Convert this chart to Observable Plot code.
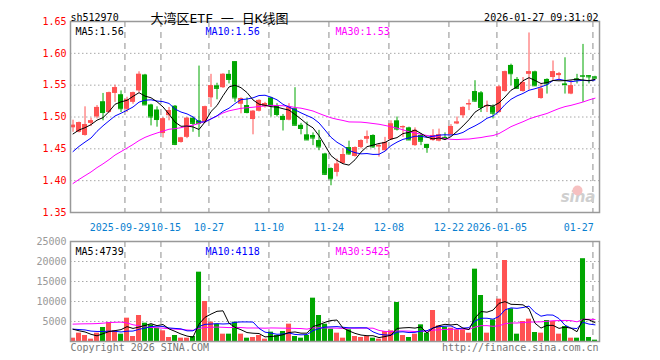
<!DOCTYPE html>
<html><head><meta charset="utf-8">
<script src="https://cdn.jsdelivr.net/npm/d3@7"></script>
<script src="https://cdn.jsdelivr.net/npm/@observablehq/plot@0.6"></script>
<style>
html,body{margin:0;padding:0;background:#fff;}
#wrap{position:relative;width:660px;height:360px;overflow:hidden;background:#fff;}
#wrap svg{position:absolute;left:0;}
</style></head><body><div id="wrap"></div>
<script>
// ---- data ----
const dates = ["2025-09-16","2025-09-17","2025-09-18","2025-09-19","2025-09-22","2025-09-23","2025-09-24","2025-09-25","2025-09-26","2025-09-29","2025-09-30",
"2025-10-09","2025-10-10","2025-10-13","2025-10-14","2025-10-15","2025-10-16","2025-10-17","2025-10-20","2025-10-21","2025-10-22","2025-10-23","2025-10-24","2025-10-27","2025-10-28","2025-10-29","2025-10-30","2025-10-31",
"2025-11-03","2025-11-04","2025-11-05","2025-11-06","2025-11-07","2025-11-10","2025-11-11","2025-11-12","2025-11-13","2025-11-14","2025-11-17","2025-11-18","2025-11-19","2025-11-20","2025-11-21","2025-11-24","2025-11-25","2025-11-26","2025-11-27","2025-11-28",
"2025-12-01","2025-12-02","2025-12-03","2025-12-04","2025-12-05","2025-12-08","2025-12-09","2025-12-10","2025-12-11","2025-12-12","2025-12-15","2025-12-16","2025-12-17","2025-12-18","2025-12-19","2025-12-22","2025-12-23","2025-12-24","2025-12-25","2025-12-26","2025-12-29","2025-12-30","2025-12-31",
"2026-01-05","2026-01-06","2026-01-07","2026-01-08","2026-01-09","2026-01-12","2026-01-13","2026-01-14","2026-01-15","2026-01-16","2026-01-19","2026-01-20","2026-01-21","2026-01-22","2026-01-23","2026-01-26","2026-01-27"];

const open = [1.483,1.476,1.471,1.490,1.500,1.524,1.507,1.537,1.535,1.512,
1.523,1.541,1.566,1.519,1.511,1.474,1.502,1.517,1.460,1.468,
1.498,1.494,1.492,1.530,1.549,1.546,1.567,1.587,1.520,1.518,
1.496,1.509,1.516,1.530,1.518,1.501,1.495,1.513,1.487,1.472,
1.471,1.463,1.442,1.419,1.413,1.427,1.452,1.438,1.452,1.465,
1.471,1.453,1.447,1.464,1.494,1.483,1.483,1.455,1.471,1.457,
1.463,1.462,1.468,1.472,1.489,1.502,1.519,1.540,1.538,1.516,
1.516,1.507,1.540,1.581,1.559,1.540,1.567,1.571,1.529,1.559,
1.562,1.565,1.552,1.536,1.560,1.565,1.565,1.563];

const close = [1.487,1.491,1.488,1.494,1.515,1.507,1.538,1.546,1.513,1.527,
1.538,1.567,1.519,1.500,1.496,1.497,1.510,1.457,1.467,1.498,
1.490,1.490,1.516,1.549,1.545,1.567,1.559,1.530,1.529,1.507,
1.509,1.526,1.521,1.518,1.504,1.496,1.515,1.487,1.482,1.464,
1.467,1.453,1.410,1.403,1.426,1.441,1.442,1.452,1.463,1.469,
1.453,1.455,1.460,1.489,1.481,1.485,1.464,1.479,1.462,1.452,
1.471,1.472,1.466,1.485,1.492,1.515,1.521,1.525,1.515,1.518,
1.506,1.547,1.571,1.568,1.545,1.554,1.571,1.549,1.544,1.552,
1.571,1.568,1.551,1.549,1.558,1.564,1.563,1.561];

const high = [1.495,1.492,1.516,1.498,1.518,1.537,1.539,1.550,1.541,1.531,
1.539,1.571,1.567,1.520,1.516,1.499,1.515,1.518,1.468,1.499,
1.500,1.580,1.517,1.567,1.553,1.568,1.573,1.587,1.530,1.530,
1.510,1.527,1.523,1.531,1.521,1.504,1.521,1.546,1.490,1.492,
1.475,1.479,1.443,1.420,1.434,1.450,1.462,1.453,1.464,1.478,
1.472,1.458,1.468,1.494,1.500,1.486,1.484,1.483,1.474,1.457,
1.480,1.481,1.475,1.488,1.500,1.516,1.527,1.557,1.540,1.525,
1.519,1.549,1.572,1.583,1.562,1.562,1.632,1.572,1.552,1.560,
1.588,1.570,1.593,1.557,1.567,1.614,1.565,1.564];

const low = [1.476,1.475,1.470,1.485,1.497,1.494,1.506,1.523,1.507,1.507,
1.520,1.538,1.518,1.486,1.484,1.467,1.494,1.455,1.459,1.466,
1.476,1.468,1.490,1.515,1.527,1.545,1.552,1.523,1.505,1.505,
1.472,1.508,1.514,1.500,1.500,1.478,1.494,1.486,1.472,1.463,
1.455,1.447,1.408,1.392,1.406,1.426,1.440,1.437,1.450,1.458,
1.451,1.437,1.447,1.463,1.478,1.468,1.463,1.454,1.455,1.443,
1.462,1.461,1.463,1.471,1.488,1.498,1.510,1.523,1.507,1.507,
1.497,1.506,1.539,1.549,1.544,1.539,1.542,1.548,1.528,1.536,
1.557,1.557,1.536,1.535,1.552,1.523,1.552,1.560];

const volume = [833,2083,1500,583,2083,3500,4750,2667,1833,5833,
1250,6500,4583,4167,3333,2667,1000,1500,833,833,
1250,17333,10000,4833,4333,1833,1833,4833,1833,833,
1000,1500,583,2333,1500,2500,4333,1250,833,1500,
10833,6500,4333,3083,2083,833,2917,1250,1000,1250,
833,583,2500,2667,9750,1500,1000,1833,4167,2083,
7750,3917,3583,3333,2917,2917,2083,18083,11500,2083,
5417,10583,20250,8167,1833,5000,5583,2250,2083,5250,
5000,1833,3750,833,833,20700,1000,333];

// 29 sessions before the window (not drawn), estimated from where the MA lines start
const warmCloses = [1.30,1.31,1.32,1.31,1.33,1.34,1.33,1.35,1.36,1.37,1.38,1.37,1.39,1.40,
1.41,1.42,1.43,1.42,1.43,1.44,1.41,1.42,1.43,1.41,1.42,1.46,1.47,1.47,1.48];
const warmVolumes = [600,500,400,500,600,400,500,500,12000,15000,14000,14000,7000,6000,5500,5000,
4500,4000,4200,4200,3000,2500,3500,3000,3500,4000,3000,3500,4000];

const priceTicks = [1.35,1.40,1.45,1.50,1.55,1.60,1.65];
const volTicks = [5000,10000,15000,20000,25000];
const tickDates = ["2025-09-29","2025-10-15","2025-10-27","2025-11-10","2025-11-24","2025-12-08","2025-12-22","2026-01-05","2026-01-27"];
const tickLabels = ["2025-09-29","10-15","10-27","11-10","11-24","12-08","12-22","2026-01-05","01-27"];
const priceMALabels = ["MA5:1.56","MA10:1.56","MA30:1.53"];
const volMALabels = ["MA5:4739","MA10:4118","MA30:5425"];
const titleText = "大湾区ETF 一 日K线图";
const codeText = "sh512970";
const timeText = "2026-01-27 09:31:02";

// ---- build ----
const W = warmCloses.length;
const allC = warmCloses.concat(close), allV = warmVolumes.concat(volume);
const ma = (arr, n, i) => d3.mean(arr.slice(i + W - n + 1, i + W + 1));
const rows = dates.map((d, i) => ({
  i, date: d, open: open[i], close: close[i], high: high[i], low: low[i], vol: volume[i],
  up: close[i] >= open[i],
  ma5: ma(allC, 5, i), ma10: ma(allC, 10, i), ma30: ma(allC, 30, i),
  v5: ma(allV, 5, i), v10: ma(allV, 10, i), v30: ma(allV, 30, i)
}));
const RED = "#ff5252", GREEN = "#00a600";
const col = d => d.up ? RED : GREEN;
const xdom = [-0.42, 87.75];
const HW = 0.42;
const grid = tickDates.map((d, k) => ({g: dates.indexOf(d) - 0.35, label: tickLabels[k]}));
// small nudges so the crowded first two date labels do not collide
const labelDx = [-5, 5, 0, 0, 0, 0, 0, 0, 1];
const MONO = "'DejaVu Sans Mono', monospace";
const GRIDC = "#a8a8a8";
const maColors = ["#000000", "#0000ff", "#ff00ff"];
const maDx = [5, 135, 265];

const main = Plot.plot({
  width: 660, height: 236, marginLeft: 70, marginRight: 61, marginTop: 21, marginBottom: 24,
  style: {fontFamily: MONO, fontSize: "10px", background: "transparent", overflow: "visible"},
  x: {domain: xdom, axis: null},
  y: {domain: [1.35, 1.65], axis: null},
  marks: [
    Plot.ruleY(priceTicks.slice(1, -1), {stroke: GRIDC, strokeDasharray: "1.5,2.5"}),
    Plot.ruleX(grid, {x: "g", stroke: GRIDC, strokeWidth: 1.3, strokeDasharray: "6,5"}),
    Plot.text(["sina"], {frameAnchor: "bottom-right", dx: -4, dy: -11, textAnchor: "end", fill: "#cfcfcf", fontSize: 15, fontWeight: "bold", fontStyle: "italic", fontFamily: "'DejaVu Sans', sans-serif"}),
    Plot.dot([0], {frameAnchor: "bottom-right", dx: -22, dy: -22, r: 5, fill: "#f6c0c0"}),
    Plot.ruleX(rows, {x: "i", y1: "low", y2: "high", stroke: col, clip: true}),
    Plot.rect(rows, {x1: d => d.i - HW, x2: d => d.i + HW, y1: "open", y2: "close", fill: col, clip: true}),
    Plot.ruleY(rows, {x1: d => d.i - HW, x2: d => d.i + HW, y: "close", stroke: col, clip: true}),
    Plot.line(rows, {x: "i", y: "ma30", stroke: maColors[2], strokeWidth: 1, clip: true}),
    Plot.line(rows, {x: "i", y: "ma10", stroke: maColors[1], strokeWidth: 1, clip: true}),
    Plot.line(rows, {x: "i", y: "ma5", stroke: maColors[0], strokeWidth: 1, clip: true}),
    Plot.frame({stroke: "#999", strokeWidth: 1.5}),
    Plot.text(priceTicks, {x: xdom[0], y: d => d, dx: -4, textAnchor: "end", text: d => d.toFixed(2), fill: "#ff0000", fontSize: 10}),
    ...grid.map((g, k) => Plot.text([g], {x: "g", y: 1.35, dy: 15, dx: labelDx[k], text: "label", fill: "#0a7fd0", fontSize: 10, textAnchor: k === grid.length - 1 ? "end" : "middle"})),
    ...priceMALabels.map((t, k) => Plot.text([t], {frameAnchor: "top-left", dx: maDx[k], dy: 6, textAnchor: "start", fill: maColors[k], fontSize: 10})),
    Plot.text([codeText], {frameAnchor: "top-left", dx: 0, dy: -8, textAnchor: "start", fill: "#000", fontSize: 10}),
    Plot.text([titleText], {frameAnchor: "top-left", dx: 80, dy: -8, textAnchor: "start", fill: "#000", fontSize: 13, fontFamily: "'DejaVu Sans Mono','Noto Sans CJK SC',monospace"}),
    Plot.text([timeText], {frameAnchor: "top-right", dx: -1, dy: -8, textAnchor: "end", fill: "#000", fontSize: 10})
  ]
});
main.style.top = "0px";

const vol = Plot.plot({
  width: 660, height: 128, marginLeft: 70, marginRight: 61, marginTop: 9, marginBottom: 19,
  style: {fontFamily: MONO, fontSize: "10px", background: "transparent", overflow: "visible"},
  x: {domain: xdom, axis: null},
  y: {domain: [0, 25000], axis: null},
  marks: [
    Plot.ruleY(volTicks.slice(0, -1), {stroke: GRIDC, strokeDasharray: "1.5,2.5"}),
    Plot.ruleX(grid, {x: "g", stroke: GRIDC, strokeWidth: 1.3, strokeDasharray: "6,5"}),
    Plot.rect(rows, {x1: d => d.i - HW, x2: d => d.i + HW, y1: 0, y2: "vol", fill: col, clip: true}),
    Plot.line(rows, {x: "i", y: "v30", stroke: maColors[2], strokeWidth: 1, clip: true}),
    Plot.line(rows, {x: "i", y: "v10", stroke: maColors[1], strokeWidth: 1, clip: true}),
    Plot.line(rows, {x: "i", y: "v5", stroke: maColors[0], strokeWidth: 1, clip: true}),
    Plot.frame({stroke: "#999", strokeWidth: 1.5}),
    Plot.text(volTicks, {x: xdom[0], y: d => d, dx: -4, textAnchor: "end", text: d => String(d), fill: "#999", fontSize: 10}),
    ...volMALabels.map((t, k) => Plot.text([t], {frameAnchor: "top-left", dx: maDx[k], dy: 6, textAnchor: "start", fill: maColors[k], fontSize: 10})),
    Plot.text(["Copyright 2026 SINA.COM"], {frameAnchor: "bottom-left", dy: 9, textAnchor: "start", fill: "#777", fontSize: 10}),
    Plot.text(["http://finance.sina.com.cn"], {frameAnchor: "bottom-right", dx: -1, dy: 9, textAnchor: "end", fill: "#777", fontSize: 10})
  ]
});
vol.style.top = "232px";

const wrap = document.getElementById("wrap");
wrap.appendChild(main);
wrap.appendChild(vol);
</script></body></html>
